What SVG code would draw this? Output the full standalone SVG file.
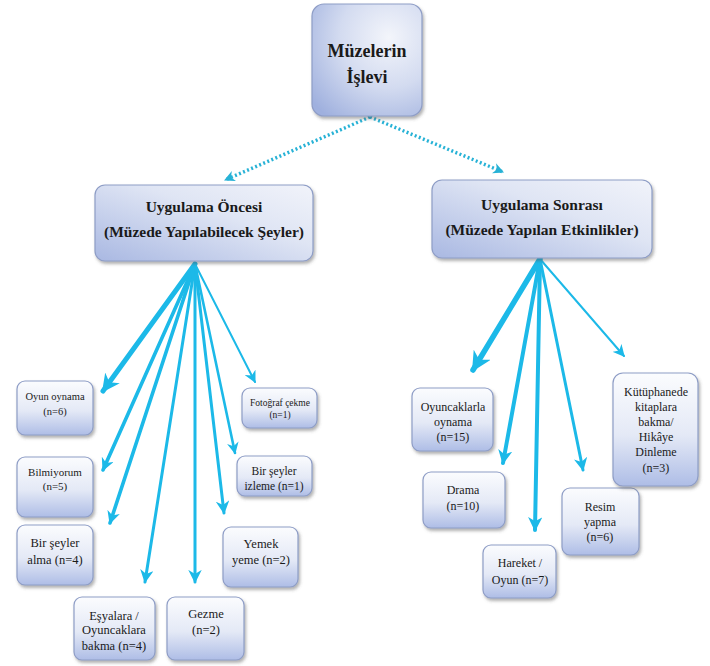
<svg xmlns="http://www.w3.org/2000/svg" width="710" height="666" viewBox="0 0 710 666">
<style>
.box{stroke:#8e9dc6;stroke-width:1.2;filter:url(#sh)}
.sm{fill:url(#gs)}
.t{fill:#1a1a1a;text-anchor:middle}
.b{font-weight:bold}
.c{fill:none;stroke:#1cb9e8;stroke-linecap:round}
.dot{fill:none;stroke:#27b2d6;stroke-width:3.4;stroke-dasharray:2,2.4}
</style>
<defs>
<linearGradient id="gs" x1="0" y1="0" x2="0" y2="1"><stop offset="0" stop-color="#fbfcfe"/><stop offset="0.55" stop-color="#e4e9f6"/><stop offset="1" stop-color="#aebde6"/></linearGradient>
<linearGradient id="gm" x1="0" y1="1" x2="1" y2="0"><stop offset="0" stop-color="#a9b8e2"/><stop offset="0.6" stop-color="#dfe5f4"/><stop offset="1" stop-color="#f1f3fa"/></linearGradient>
<radialGradient id="gr" cx="0.7" cy="0.3" r="0.9"><stop offset="0" stop-color="#f3f5fb"/><stop offset="0.5" stop-color="#d3dbf0"/><stop offset="1" stop-color="#9fb0de"/></radialGradient>
<filter id="sh" x="-10%" y="-10%" width="130%" height="130%"><feDropShadow dx="1.5" dy="2.5" stdDeviation="1.5" flood-color="#555" flood-opacity="0.45"/></filter>
<marker id="ah" viewBox="0 0 10 10" refX="9" refY="5" markerWidth="3.6" markerHeight="3.6" orient="auto" markerUnits="strokeWidth"><path d="M0,0 L10,5 L0,10 L3,5 z" fill="#1cb9e8"/></marker>
<marker id="ahl" viewBox="0 0 10 10" refX="9" refY="5" markerWidth="4.5" markerHeight="4.5" orient="auto" markerUnits="strokeWidth"><path d="M0,0 L10,5 L0,10 L3,5 z" fill="#1cb9e8"/></marker>
<marker id="ahx" viewBox="0 0 10 10" refX="9" refY="5" markerWidth="6" markerHeight="6" orient="auto" markerUnits="strokeWidth"><path d="M0,0 L10,5 L0,10 L3,5 z" fill="#1cb9e8"/></marker>
<marker id="ad" viewBox="0 0 10 10" refX="9" refY="5" markerWidth="3.2" markerHeight="3.2" orient="auto" markerUnits="strokeWidth"><path d="M0,0 L10,5 L0,10 L3,5 z" fill="#27b2d6"/></marker>
</defs>

<g id="connectors">
<line class="dot" x1="370" y1="117" x2="225" y2="180" marker-end="url(#ad)"/>
<line class="dot" x1="370" y1="117" x2="503" y2="172" marker-end="url(#ad)"/>
<line class="c" x1="195" y1="264" x2="103" y2="391" stroke-width="5" marker-end="url(#ah)"/>
<line class="c" x1="195" y1="264" x2="103" y2="470" stroke-width="3.6" marker-end="url(#ah)"/>
<line class="c" x1="195" y1="264" x2="110" y2="523" stroke-width="3.6" marker-end="url(#ah)"/>
<line class="c" x1="195" y1="264" x2="145" y2="582" stroke-width="3" marker-end="url(#ahl)"/>
<line class="c" x1="195" y1="264" x2="195" y2="582" stroke-width="3" marker-end="url(#ahl)"/>
<line class="c" x1="195" y1="264" x2="224" y2="513" stroke-width="3" marker-end="url(#ahl)"/>
<line class="c" x1="195" y1="264" x2="235" y2="453" stroke-width="2.6" marker-end="url(#ahl)"/>
<line class="c" x1="195" y1="264" x2="255" y2="382" stroke-width="2" marker-end="url(#ahx)"/>
<line class="c" x1="540" y1="259" x2="473" y2="370" stroke-width="5.5" marker-end="url(#ah)"/>
<line class="c" x1="540" y1="259" x2="503" y2="463" stroke-width="4" marker-end="url(#ah)"/>
<line class="c" x1="540" y1="259" x2="535" y2="530" stroke-width="4" marker-end="url(#ah)"/>
<line class="c" x1="540" y1="259" x2="583" y2="470" stroke-width="3" marker-end="url(#ahl)"/>
<line class="c" x1="540" y1="259" x2="624" y2="356" stroke-width="2" marker-end="url(#ahx)"/>
</g>

<g font-family="Liberation Serif, Times New Roman, serif">
<g id="root">
<rect class="box" x="312" y="4" width="110" height="112" rx="12" fill="url(#gr)"/>
<text class="t b" x="367" y="57" font-size="18">Müzelerin</text>
<text class="t b" x="367" y="83" font-size="18">İşlevi</text>
</g>

<g id="oncesi">
<rect class="box" x="95" y="185" width="218" height="76" rx="10" fill="url(#gm)"/>
<text class="t b" x="204" y="212" font-size="15.5">Uygulama Öncesi</text>
<text class="t b" x="204" y="237" font-size="15.5">(Müzede Yapılabilecek Şeyler)</text>
</g>

<g id="sonrasi">
<rect class="box" x="432" y="180" width="220" height="78" rx="10" fill="url(#gm)"/>
<text class="t b" x="542" y="210" font-size="15.5">Uygulama Sonrası</text>
<text class="t b" x="542" y="235" font-size="15.5">(Müzede Yapılan Etkinlikler)</text>
</g>

<g id="oyun-oynama">
<rect class="box sm" x="17" y="381" width="76" height="54" rx="8"/>
<text class="t" x="55" y="400" font-size="10.5">Oyun oynama</text>
<text class="t" x="55" y="415" font-size="10.5">(n=6)</text>
</g>

<g id="bilmiyorum">
<rect class="box sm" x="17" y="457" width="76" height="60" rx="8"/>
<text class="t" x="55" y="476" font-size="11">Bilmiyorum</text>
<text class="t" x="55" y="490" font-size="11">(n=5)</text>
</g>

<g id="bir-seyler-alma">
<rect class="box sm" x="17" y="525" width="76" height="60" rx="8"/>
<text class="t" x="55" y="547" font-size="12.5">Bir şeyler</text>
<text class="t" x="55" y="564" font-size="12.5">alma (n=4)</text>
</g>

<g id="esyalara">
<rect class="box sm" x="74" y="597" width="81" height="63" rx="8"/>
<text class="t" x="114" y="620" font-size="12.5">Eşyalara /</text>
<text class="t" x="114" y="634" font-size="12.5">Oyuncaklara</text>
<text class="t" x="114" y="650" font-size="12.5">bakma (n=4)</text>
</g>

<g id="gezme">
<rect class="box sm" x="167" y="597" width="77" height="63" rx="8"/>
<text class="t" x="206" y="618" font-size="12.5">Gezme</text>
<text class="t" x="206" y="634" font-size="12.5">(n=2)</text>
</g>

<g id="yemek-yeme">
<rect class="box sm" x="223" y="527" width="75" height="60" rx="8"/>
<text class="t" x="261" y="548" font-size="12.5">Yemek</text>
<text class="t" x="261" y="564" font-size="12.5">yeme (n=2)</text>
</g>

<g id="bir-seyler-izleme">
<rect class="box sm" x="237" y="456" width="75" height="40" rx="8"/>
<text class="t" x="274" y="475" font-size="11.5">Bir şeyler</text>
<text class="t" x="274" y="490" font-size="11.5">izleme (n=1)</text>
</g>

<g id="fotograf-cekme">
<rect class="box sm" x="242" y="388" width="75" height="40" rx="8"/>
<text class="t" x="280" y="406" font-size="9.5">Fotoğraf çekme</text>
<text class="t" x="280" y="418" font-size="9.5">(n=1)</text>
</g>

<g id="oyuncaklarla">
<rect class="box sm" x="412" y="388" width="81" height="63" rx="8"/>
<text class="t" x="453" y="411" font-size="12">Oyuncaklarla</text>
<text class="t" x="453" y="426" font-size="12">oynama</text>
<text class="t" x="453" y="441" font-size="12">(n=15)</text>
</g>

<g id="drama">
<rect class="box sm" x="423" y="472" width="82" height="56" rx="8"/>
<text class="t" x="463" y="494" font-size="12">Drama</text>
<text class="t" x="463" y="510" font-size="12">(n=10)</text>
</g>

<g id="hareket">
<rect class="box sm" x="483" y="545" width="73" height="53" rx="8"/>
<text class="t" x="520" y="567" font-size="12">Hareket /</text>
<text class="t" x="520" y="584" font-size="12">Oyun (n=7)</text>
</g>

<g id="resim">
<rect class="box sm" x="562" y="488" width="77" height="67" rx="8"/>
<text class="t" x="600" y="511" font-size="12">Resim</text>
<text class="t" x="600" y="526" font-size="12">yapma</text>
<text class="t" x="600" y="541" font-size="12">(n=6)</text>
</g>

<g id="kutuphanede">
<rect class="box sm" x="613" y="373" width="85" height="113" rx="10"/>
<text class="t" x="656" y="396" font-size="12">Kütüphanede</text>
<text class="t" x="656" y="411" font-size="12">kitaplara</text>
<text class="t" x="656" y="426" font-size="12">bakma/</text>
<text class="t" x="656" y="441" font-size="12">Hikâye</text>
<text class="t" x="656" y="456" font-size="12">Dinleme</text>
<text class="t" x="656" y="472" font-size="12">(n=3)</text>
</g>
</g>
</svg>
